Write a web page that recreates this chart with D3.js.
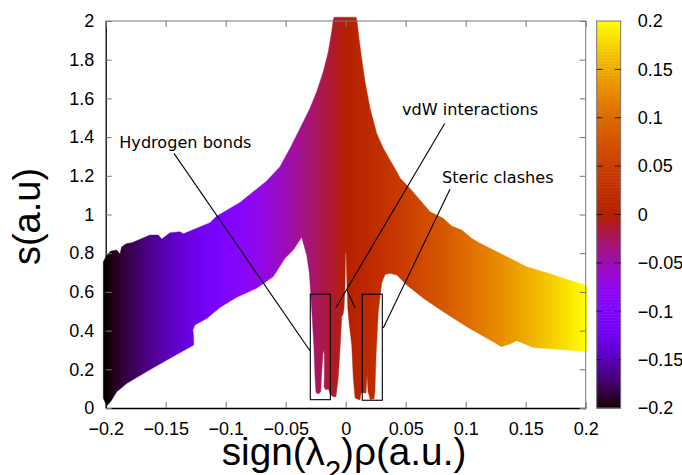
<!DOCTYPE html>
<html>
<head>
<meta charset="utf-8">
<script src="https://cdn.jsdelivr.net/npm/d3@7"></script>
<style>
html,body{margin:0;padding:0;background:#fff;overflow:hidden}
svg{display:block}
</style>
</head>
<body>
<svg id="c" width="682" height="475"></svg>
<script>
const xTicks = [-0.2,-0.15,-0.1,-0.05,0,0.05,0.1,0.15,0.2];
const yTicks = [0,0.2,0.4,0.6,0.8,1,1.2,1.4,1.6,1.8,2];
const cbTicks = [-0.2,-0.15,-0.1,-0.05,0,0.05,0.1,0.15,0.2];

const upperX = [-.2020,-.1998,-.1958,-.1908,-.1881,-.1867,-.1825,-.1783,-.1714,-.1631,-.1562,-.1533,-.1464,-.1381,-.1353,-.1131,-.1077,-.0881,-.0659,-.0548,-.0464,-.0381,-.0298,-.0242,-.0187,-.0145,-.0117,-.0103,-.0095,.0085,.0092,.0111,.0133,.0161,.0203,.0258,.0313,.0369,.0425,.0453,.0536,.0619,.0703,.0813,.0883,.0967,.105,.1119,.1203,.1342,.1508,.1675,.1813,.198,.2011];
const upperS = [.756,.782,.811,.816,.796,.833,.85,.854,.872,.894,.894,.873,.906,.911,.90,.958,.991,1.062,1.173,1.247,1.342,1.445,1.549,1.635,1.738,1.841,1.945,2.01,2.02,2.02,2.01,1.91,1.807,1.686,1.549,1.42,1.342,1.282,1.222,1.188,1.135,1.075,1.014,.98,.94,.92,.877,.851,.825,.782,.73,.699,.67,.639,.625];
const lowerX = [-.2020,-.1992,-.1958,-.1908,-.1825,-.1658,-.1464,-.1266,-.1268,-.1274,-.1256,-.1158,-.1048,-.0908,-.0742,-.0603,-.0506,-.0437,-.0367,-.0325,-.0303,-.0292,-.0278,-.0264,-.0256,-.0248,-.0228,-.0208,-.02,-.0187,-.0178,-.0178,-.0181,-.0164,-.0145,-.0125,-.0103,-.0081,-.0062,-.0045,-.0033,-.0021,-.0014,-.0006,-.0002,.0003,.0011,.0017,.003,.005,.0063,.0078,.0119,.0128,.0169,.0178,.0186,.0194,.0203,.0236,.0244,.0253,.0272,.03,.0328,.0369,.0425,.0453,.0508,.0647,.0813,.1008,.1203,.1297,.1369,.1425,.1564,.1675,.1842,.2008];
const lowerS = [.05,.01,.033,.084,.127,.188,.257,.326,.377,.403,.429,.463,.52,.572,.619,.679,.774,.816,.882,.79,.696,.593,.455,.30,.162,.08,.072,.084,.18,.30,.28,.162,.11,.093,.10,.067,.058,.058,.155,.326,.472,.486,.515,.62,.80,.80,.62,.517,.429,.326,.155,.052,.041,.078,.078,.17,.083,.067,.044,.047,.088,.274,.498,.646,.69,.696,.687,.67,.636,.567,.498,.42,.351,.317,.331,.348,.313,.308,.30,.291];

const boxXMin = [-.0295,.0138];
const boxXMax = [-.0128,.0305];
const boxSMin = [.043,.04];
const boxSMax = [.588,.588];

const labelText = ["Hydrogen bonds","vdW interactions","Steric clashes"];
const labelX = [-.1887,.0469,.0803];
const labelS = [1.342,1.514,1.161];
const leaderX1 = [-.1431,.0825,.0869];
const leaderS1 = [1.316,1.47,1.13];
const leaderX2 = [-.0298,-.0083,.0313];
const leaderS2 = [.296,.517,.413];
const leader2X1 = [.0009];
const leader2S1 = [.613];
const leader2X2 = [.0078];
const leader2S2 = [.517];

const svg = d3.select("#c");
const x = d3.scaleLinear().domain([-0.2,0.2]).range([105.7,585.7]);
const y = d3.scaleLinear().domain([0,2]).range([408,21]);
const cb = d3.scaleLinear().domain([-0.2,0.2]).range([408,21]);

const gp = v => {
  const t = Math.max(0,Math.min(1,(v+0.2)/0.4));
  const c = u => Math.round(255*Math.max(0,Math.min(1,u)));
  return d3.rgb(c(Math.sqrt(t)),c(t*t*t),c(Math.sin(2*Math.PI*t))).formatHex();
};

const defs = svg.append("defs");
const grad = defs.append("linearGradient").attr("id","pal")
  .attr("gradientUnits","userSpaceOnUse")
  .attr("x1",x(-0.2)).attr("x2",x(0.2)).attr("y1",0).attr("y2",0);
d3.range(0,161).forEach(i=>{
  grad.append("stop").attr("offset",(i/160)).attr("stop-color",gp(-0.2+0.4*i/160));
});

// cloud
const outline = upperX.map((v,i)=>[v,upperS[i]])
  .concat(lowerX.map((v,i)=>[v,lowerS[i]]).reverse());
const line = d3.line().x(d=>x(d[0])).y(d=>y(d[1]));
svg.append("path").attr("d",line(outline)+"Z")
  .attr("fill","url(#pal)").attr("stroke","url(#pal)").attr("stroke-width",0.4).attr("stroke-linejoin","round");

// frame
const font = "'Liberation Sans',Arial,sans-serif";
const frame = svg.append("g");
frame.append("line").attr("x1",x(-0.2)).attr("x2",x(0.2)).attr("y1",y(2)).attr("y2",y(2)).attr("stroke","#777");
frame.append("line").attr("x1",x(0.2)).attr("x2",x(0.2)).attr("y1",y(2)).attr("y2",y(0)).attr("stroke","#777");

// axes
const ax = d3.axisBottom(x).tickValues(xTicks).tickFormat(d3.format("~g")).tickSizeInner(-6).tickSizeOuter(0).tickPadding(14.3);
const ay = d3.axisLeft(y).tickValues(yTicks).tickFormat(d3.format("~g")).tickSizeInner(-6).tickSizeOuter(0).tickPadding(11.5);
const ar = d3.axisRight(y).tickValues(yTicks).tickFormat("").tickSizeInner(-6).tickSizeOuter(0);
const at = d3.axisTop(x).tickValues(xTicks).tickFormat("").tickSizeInner(-6).tickSizeOuter(0);
const gx = svg.append("g").attr("transform",`translate(0,${y(0)})`).call(ax);
const gy = svg.append("g").attr("transform",`translate(${x(-0.2)},0)`).call(ay);
const gr = svg.append("g").attr("transform",`translate(${x(0.2)},0)`).call(ar);
const gt = svg.append("g").attr("transform",`translate(0,${y(2)})`).call(at);
[gr,gt].forEach(g=>{g.select(".domain").remove();g.selectAll("line").attr("stroke","#777");});
[gx,gy].forEach(g=>{
  g.select(".domain").attr("stroke","#000").attr("stroke-width",1.3);
  g.selectAll(".tick line").attr("stroke","#777");
  g.selectAll("text").attr("font-family",font).attr("font-size",18).attr("fill","#000");
});

// colorbar
const cbLeft = 596.7, cbRight = 620.7;
const levels = d3.range(0,128);
svg.append("g").selectAll("rect").data(levels).join("rect")
  .attr("x",cbLeft).attr("width",cbRight-cbLeft)
  .attr("y",d=>cb(-0.2+0.4*(d+1)/128))
  .attr("height",d=>cb(-0.2+0.4*d/128)-cb(-0.2+0.4*(d+1)/128)+0.5)
  .attr("fill",d=>gp(-0.2+0.4*(d+0.5)/128));
svg.append("rect").attr("x",cbLeft).attr("y",cb(0.2)).attr("width",cbRight-cbLeft).attr("height",cb(-0.2)-cb(0.2))
  .attr("fill","none").attr("stroke","#777");
const acb = d3.axisRight(cb).tickValues(cbTicks).tickFormat(d3.format("~g")).tickSizeInner(0).tickSizeOuter(0).tickPadding(17);
const gcb = svg.append("g").attr("transform",`translate(${cbRight},0)`).call(acb);
gcb.select(".domain").remove();
gcb.selectAll("text").attr("font-family",font).attr("font-size",18).attr("fill","#000");
const inner = cbTicks.filter(d=>d>-0.2&&d<0.2);
svg.append("g").selectAll("line.a").data(inner).join("line")
  .attr("x1",cbLeft).attr("x2",cbLeft+6).attr("y1",d=>cb(d)).attr("y2",d=>cb(d)).attr("stroke","#000").attr("stroke-opacity",.75);
svg.append("g").selectAll("line.b").data(inner).join("line")
  .attr("x1",cbRight-6).attr("x2",cbRight).attr("y1",d=>cb(d)).attr("y2",d=>cb(d)).attr("stroke","#000").attr("stroke-opacity",.75);

// boxes
svg.append("g").selectAll("rect").data(boxXMin).join("rect")
  .attr("x",(d)=>x(d)).attr("width",(d,i)=>x(boxXMax[i])-x(d))
  .attr("y",(d,i)=>y(boxSMax[i])).attr("height",(d,i)=>y(boxSMin[i])-y(boxSMax[i]))
  .attr("fill","none").attr("stroke","#000").attr("stroke-width",1.1);

// leaders
svg.append("g").selectAll("line").data(leaderX1).join("line")
  .attr("x1",d=>x(d)).attr("y1",(d,i)=>y(leaderS1[i]))
  .attr("x2",(d,i)=>x(leaderX2[i])).attr("y2",(d,i)=>y(leaderS2[i]))
  .attr("stroke","#000").attr("stroke-width",1.1);
svg.append("g").selectAll("line").data(leader2X1).join("line")
  .attr("x1",d=>x(d)).attr("y1",(d,i)=>y(leader2S1[i]))
  .attr("x2",(d,i)=>x(leader2X2[i])).attr("y2",(d,i)=>y(leader2S2[i]))
  .attr("stroke","#000").attr("stroke-width",1.1);

// labels
svg.append("g").selectAll("text").data(labelText).join("text")
  .text(d=>d)
  .attr("x",(d,i)=>x(labelX[i])).attr("y",(d,i)=>y(labelS[i]))
  .attr("font-family","'DejaVu Sans',sans-serif").attr("font-size",16.1).attr("fill","#000");

// titles
const xt = svg.append("text").attr("x",344).attr("y",465).attr("text-anchor","middle")
  .attr("font-family",font).attr("font-size",38.7).attr("fill","#000");
xt.append("tspan").text("sign(λ");
xt.append("tspan").text("2").attr("font-size",29).attr("dy",16);
xt.append("tspan").text(")ρ(a.u.)").attr("dy",-16);
svg.append("text").attr("transform","translate(39.5,216.5) rotate(-90)").attr("text-anchor","middle")
  .attr("font-family",font).attr("font-size",38).attr("fill","#000").text("s(a.u)");
</script>
</body>
</html>
